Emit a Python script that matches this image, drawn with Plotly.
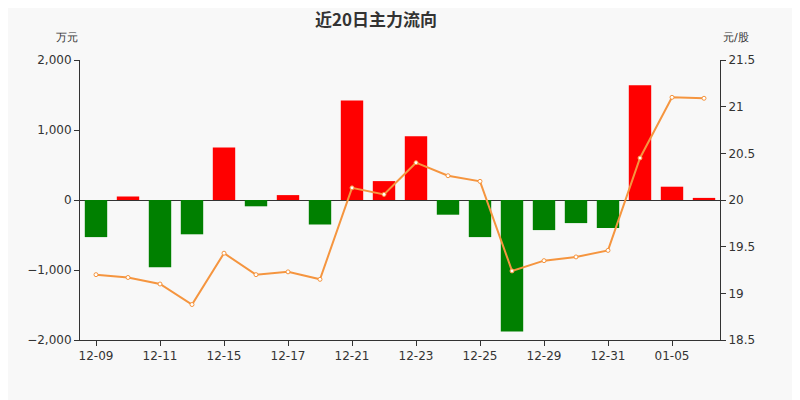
import plotly.graph_objects as go

dates = ["12-09","12-10","12-11","12-14","12-15","12-16","12-17","12-18","12-21","12-22",
         "12-23","12-24","12-25","12-28","12-29","12-30","12-31","01-04","01-05","01-06"]
flow = [-530, 50, -960, -490, 750, -90, 70, -350, 1420, 270,
        910, -210, -530, -1880, -430, -330, -400, 1640, 190, 30]
price = [19.2, 19.17, 19.1, 18.88, 19.43, 19.2, 19.23, 19.15, 20.13, 20.06,
         20.4, 20.26, 20.2, 19.24, 19.35, 19.39, 19.46, 20.45, 21.1, 21.09]
tick_labels = ["12-09","12-11","12-15","12-17","12-21","12-23","12-25","12-29","12-31","01-05"]

colors = ["#ff0000" if v >= 0 else "#008000" for v in flow]
fig = go.Figure()
fig.add_bar(x=dates, y=flow, marker_color=colors, marker_line_width=0, width=0.7)
fig.add_scatter(x=dates, y=price, yaxis="y2", mode="lines+markers",
                line=dict(color="#f5953f", width=2),
                marker=dict(size=4, color="white", line=dict(color="#f5953f", width=1)))
font = dict(family="DejaVu Sans", size=12, color="#333")
fig.update_layout(
    width=800, height=400, margin=dict(l=72, r=88, t=52, b=68),
    paper_bgcolor="#f8f8f8", plot_bgcolor="#f8f8f8", showlegend=False, font=font,
    title=dict(text="<b>近20日主力流向</b>", x=0.46, y=0.985, xanchor="center", yanchor="top",
               font=dict(size=17, color="#333", family="Noto Sans CJK SC")),
    xaxis=dict(type="category", tickmode="array", tickvals=tick_labels, ticktext=tick_labels,
               showline=True, linecolor="#333", ticks="outside", ticklen=5, tickcolor="#333",
               showgrid=False, range=[-0.5, 19.5]),
    yaxis=dict(range=[-2000, 2000], dtick=1000, tickformat=",", showline=True, linecolor="#333",
               ticks="outside", ticklen=5, tickcolor="#333", showgrid=False,
               zeroline=True, zerolinecolor="#333", zerolinewidth=1),
    yaxis2=dict(range=[18.5, 21.5], dtick=0.5, overlaying="y", side="right", showline=True,
                linecolor="#333", ticks="outside", ticklen=5, tickcolor="#333", showgrid=False,
                zeroline=False, tickformat="~g"),
    annotations=[
        dict(text="万元", x=0, y=1.05, xref="paper", yref="paper", xanchor="right", yanchor="bottom",
             showarrow=False, font=dict(size=11, color="#333")),
        dict(text="元/股", x=1.025, y=1.05, xref="paper", yref="paper", xanchor="center", yanchor="bottom",
             showarrow=False, font=dict(size=11, color="#333")),
    ],
)
fig.write_html("out.html")
